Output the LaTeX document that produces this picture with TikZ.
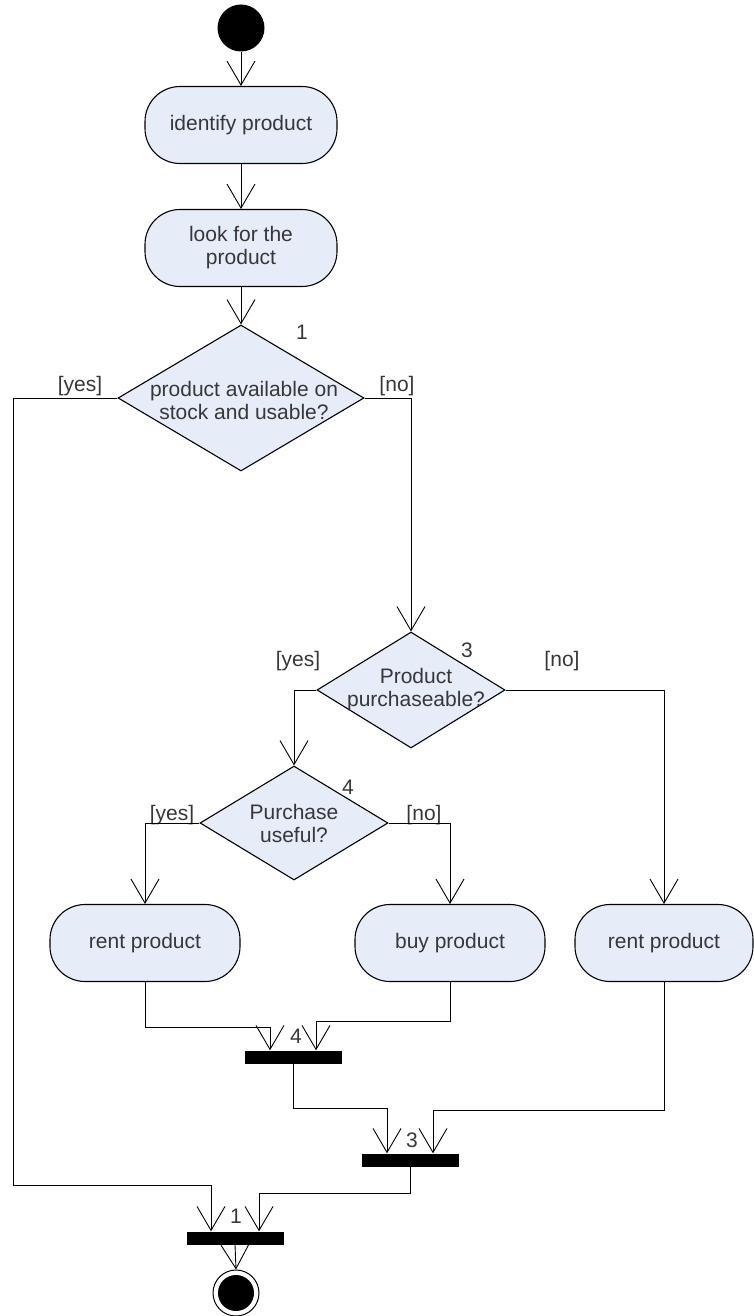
\documentclass[tikz,border=0pt]{standalone}
\usepackage{fontspec}
\setmainfont{Liberation Sans}
\usetikzlibrary{arrows.meta,shapes.geometric}

\definecolor{actfill}{RGB}{230,236,248}
\definecolor{txtgray}{RGB}{55,55,55}

\begin{document}
\begin{tikzpicture}[x=1pt,y=-1pt,
    font=\fontsize{21}{23}\selectfont,
    action/.style={draw, line width=1.1pt, fill=actfill, rounded corners=35pt,
      minimum width=192pt, minimum height=77pt, align=center, text=txtgray},
    decision/.style={draw, line width=1.1pt, fill=actfill, diamond, inner sep=0pt},
    bar/.style={fill=black, inner sep=0pt, minimum width=97pt, minimum height=13pt},
    flow/.style={line width=0.9pt, -{Straight Barb[length=24pt,width=28pt]}},
    lbl/.style={text=txtgray, inner sep=0pt}]

  \useasboundingbox (0,0) rectangle (754,1316);

  \node[circle, fill=black, minimum size=47pt, inner sep=0pt] (start) at (241,28) {};
  \node[action] (identify) at (241,125) {identify product};
  \node[action] (look) at (241,248) {look for the\\product};

  \node[decision, minimum width=246pt, minimum height=146pt] (d1) at (241,398) {};
  \node[lbl, align=center] (t1) at (244,400) {product available on\\stock and usable?};
  \node[decision, minimum width=188pt, minimum height=116pt] (d3) at (411,690) {};
  \node[lbl, align=center] (t3) at (416,690) {Product\\purchaseable?};
  \node[decision, minimum width=188pt, minimum height=114pt] (d4) at (294,823) {};
  \node[lbl, align=center] (t4) at (294,823) {Purchase\\useful?};

  \node[action, minimum width=190pt] (rent1) at (145,943) {rent product};
  \node[action, minimum width=190pt] (buy) at (450,943) {buy product};
  \node[action, minimum width=178pt] (rent2) at (664,943) {rent product};

  \node[bar] (bar4) at (293,1057) {};
  \node[bar] (bar3) at (410,1160) {};
  \node[bar] (bar1) at (235,1238) {};

  \node[circle, draw, line width=1pt, minimum size=46pt, inner sep=0pt] (end) at (236,1293) {};
  \fill (end.center) circle (18pt);

  \node[lbl] (n1) at (302,332) {1};
  \node[lbl] (n3) at (467,650) {3};
  \node[lbl] (n4) at (348,787) {4};
  \node[lbl] (b4) at (296,1036) {4};
  \node[lbl] (b3) at (412,1140) {3};
  \node[lbl] (b1) at (236,1216) {1};

  \node[lbl] (y1) at (80,386) {[yes]};
  \node[lbl] (no1) at (397,386) {[no]};
  \node[lbl] (y3) at (298,661) {[yes]};
  \node[lbl] (no3) at (562,661) {[no]};
  \node[lbl] (y4) at (172,815) {[yes]};
  \node[lbl] (no4) at (424,815) {[no]};

  \draw[flow] (start) -- (identify);
  \draw[flow] (identify) -- (look);
  \draw[flow] (look) -- (d1.north);

  \draw[flow] (d1.west) -| ([shift={(-222pt,46pt)}]bar1.north) -| ([xshift=-24pt]bar1.north);
  \draw[flow] (d1.east) -| (d3.north);

  \draw[flow] (d3.west) -| (d4.north);
  \draw[flow] (d3.east) -| (rent2.north);

  \draw[flow] (d4.west) -| (rent1.north);
  \draw[flow] (d4.east) -| (buy.north);

  \draw[flow] (rent1.south) |- ([shift={(-23pt,23pt)}]bar4.north) -- ([xshift=-23pt]bar4.north);
  \draw[flow] (buy.south) |- ([shift={(23pt,29pt)}]bar4.north) -- ([xshift=23pt]bar4.north);

  \draw[flow] (bar4.south) |- ([shift={(-23pt,45pt)}]bar3.north) -- ([xshift=-23pt]bar3.north);
  \draw[flow] (rent2.south) |- ([shift={(23pt,43pt)}]bar3.north) -- ([xshift=23pt]bar3.north);

  \draw[flow] (bar3.south) |- ([shift={(24pt,38pt)}]bar1.north) -- ([xshift=24pt]bar1.north);
  \draw[flow] (bar1.south) -- (end.north);

\end{tikzpicture}
\end{document}
